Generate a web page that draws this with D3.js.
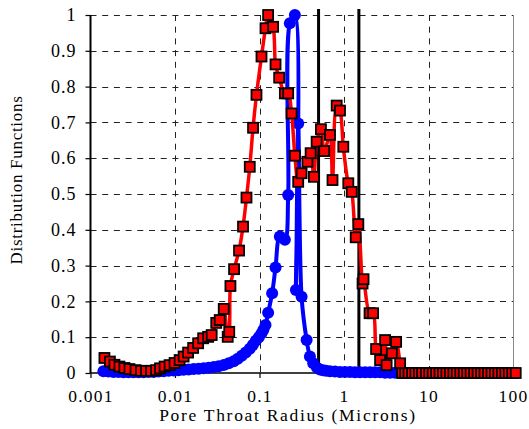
<!DOCTYPE html>
<html><head><meta charset="utf-8">
<script src="https://cdn.jsdelivr.net/npm/d3@7"></script>
<style>body{margin:0;background:#fff}svg{display:block}</style>
</head><body><svg id="c" width="529" height="429"></svg>
<script>
// ---- data ----
const xTicks = [0.001, 0.01, 0.1, 1, 10, 100];
const xTickLabels = ["0.001", "0.01", "0.1", "1", "10", "100"];
const yTicks = [0, 0.1, 0.2, 0.3, 0.4, 0.5, 0.6, 0.7, 0.8, 0.9, 1];
const yTickLabels = ["0", "0.1", "0.2", "0.3", "0.4", "0.5", "0.6", "0.7", "0.8", "0.9", "1"];
const cutoffLines = [0.5, 1.5];
const xTitle = "Pore Throat Radius (Microns)";
const yTitle = "Distribution Functions";

// blue series (circles)
const blueX = [0.001422,0.00163,0.00187,0.002143,0.002456,0.002816,0.003228,0.0037,0.004242,0.004862,
  0.005574,0.00639,0.00732,0.00839,0.00962,0.01103,0.01265,0.01449,0.01662,0.01905,
  0.02184,0.02504,0.0287,0.0329,0.03772,0.04324,0.04957,0.0553,0.06168,0.0688,
  0.0767,0.0833,0.0904,0.0981,0.1051,0.1109,0.1178,0.1265,0.1411,0.1548,
  0.1741,0.1996,0.2185,0.2288,0.2623,0.2697,0.2871,0.3148,0.3612,0.3951,
  0.4323,0.4784,0.5192,0.5636,0.6115,0.6822,0.782,0.896,1.027,1.178,
  1.35,1.548,1.774,2.034,2.331,2.672,3.064,3.512,4.026];
const blueY = [0.005,0.004,0.003,0.003,0.002,0.002,0.002,0.002,0.002,0.003,
  0.003,0.004,0.005,0.006,0.007,0.008,0.009,0.01,0.011,0.012,
  0.013,0.015,0.017,0.019,0.022,0.027,0.033,0.04,0.048,0.057,
  0.068,0.078,0.09,0.1,0.11,0.12,0.134,0.168,0.223,0.295,
  0.381,0.372,0.497,0.977,1.0,0.232,0.697,0.213,0.092,0.046,
  0.027,0.015,0.01,0.008,0.006,0.005,0.004,0.003,0.003,0.003,
  0.002,0.002,0.002,0.002,0.002,0.002,0.001,0.001,0.001];

// red series (squares)
const redX = [0.001462,0.001698,0.00192,0.0022,0.00252,0.00289,0.00341,0.00396,0.00454,0.0052,
  0.00597,0.00665,0.00753,0.00863,0.00989,0.01134,0.01265,0.01429,0.0164,0.01879,
  0.02154,0.0247,0.02717,0.03076,0.0338,0.03774,0.04207,0.04385,0.04529,0.05,
  0.05728,0.06385,0.07015,0.0767,0.0839,0.0921,0.1056,0.1178,0.1265,0.145,
  0.1548,0.1709,0.1996,0.2185,0.2397,0.2623,0.2871,0.3148,0.369,0.4027,
  0.4406,0.4744,0.5333,0.5834,0.6822,0.7311,0.819,0.8966,0.9811,1.1245,
  1.234,1.3761,1.4779,1.658,1.703,2.007,2.208,2.397,2.673,3.064,
  3.193,3.68,4.139,4.616,4.876,
  5.3,5.8,6.4,7.0,7.7,8.4,9.3,10.2,11.2,12.3,13.5,14.8,16.3,17.9,19.7,21.6,23.8,26.1,
  28.7,31.5,34.7,38.1,41.9,46.0,50.6,55.6,61.1,67.1,73.8,81.1,89.1,98,107.7];
const redY = [0.042,0.032,0.023,0.018,0.014,0.011,0.008,0.006,0.006,0.006,
  0.008,0.013,0.018,0.022,0.028,0.036,0.046,0.057,0.07,0.083,
  0.097,0.101,0.106,0.14,0.148,0.179,0.101,0.115,0.243,0.29,
  0.342,0.409,0.49,0.576,0.685,0.777,0.884,0.963,1.0,0.967,
  0.862,0.825,0.781,0.781,0.725,0.607,0.534,0.558,0.59,0.614,
  0.548,0.646,0.681,0.62,0.665,0.539,0.747,0.733,0.632,0.53,
  0.506,0.379,0.416,0.25,0.262,0.167,0.167,0.067,0.036,0.092,
  0.022,0.055,0.087,0.027,0,
  0,0,0,0,0,0,0,0,0,0,0,0,0,0,0,0,0,0,
  0,0,0,0,0,0,0,0,0,0,0,0,0,0,0];

// ---- chart ----
const FONT = "'Liberation Serif'";
const svg = d3.select("#c");
const x = d3.scaleLog().domain([0.001, 100]).range([90.5, 513]);
const y = d3.scaleLinear().domain([0, 1]).range([373, 15]);

const grid = svg.append("g");
grid.selectAll("line.h").data(yTicks.filter(d => d > 0)).join("line")
  .attr("x1", x(0.001)).attr("x2", x(100))
  .attr("y1", d => Math.round(y(d)) + 0.5).attr("y2", d => Math.round(y(d)) + 0.5)
  .attr("stroke", "#222").attr("stroke-dasharray", "6,5.7");
grid.selectAll("line.v").data(xTicks.slice(1, -1)).join("line")
  .attr("x1", d => Math.round(x(d)) + 0.5).attr("x2", d => Math.round(x(d)) + 0.5)
  .attr("y1", y(1)).attr("y2", y(0))
  .attr("stroke", "#222").attr("stroke-dasharray", "6,5.7");
grid.append("line").attr("x1", Math.round(x(100)) + 0.5).attr("x2", Math.round(x(100)) + 0.5)
  .attr("y1", y(1)).attr("y2", y(0)).attr("stroke", "#888").attr("stroke-width", 1);

// axes
const yAxis = d3.axisLeft(y).tickValues(yTicks).tickSize(5).tickPadding(9)
  .tickFormat((d, i) => yTickLabels[i]);
const gy = svg.append("g").attr("transform", `translate(${x(0.001)},0)`).call(yAxis);
gy.attr("font-family", null).attr("font-size", null);
gy.select(".domain").attr("stroke", "#000").attr("stroke-width", 2).attr("d", `M0,${y(1)}V${y(0)}`);
gy.selectAll(".tick line").attr("stroke", "#000").attr("stroke-width", 1.2);
gy.selectAll("text").style("font-family", FONT).style("font-size", "18px").attr("letter-spacing", 1).attr("fill", "#000");

const xAxis = d3.axisBottom(x).tickValues(xTicks).tickSize(5).tickPadding(6)
  .tickFormat((d, i) => xTickLabels[i]);
const gx = svg.append("g").attr("transform", `translate(0,${y(0)})`).call(xAxis);
gx.attr("font-family", null).attr("font-size", null);
gx.select(".domain").attr("stroke", "#000").attr("stroke-width", 1.5).attr("d", `M${x(0.001)},0H${x(100)}`);
gx.selectAll(".tick line").attr("stroke", "#000").attr("stroke-width", 1.2);
gx.selectAll("text").style("font-family", FONT).style("font-size", "17.5px").attr("letter-spacing", 1.2).attr("fill", "#000")
  .attr("dy", "1em");

// cutoff lines
svg.append("g").selectAll("line").data(cutoffLines).join("line")
  .attr("x1", d => x(d)).attr("x2", d => x(d))
  .attr("y1", y(1) - 6).attr("y2", y(0))
  .attr("stroke", "#000").attr("stroke-width", 3);

// titles
svg.append("text").attr("x", 288).attr("y", 421).attr("text-anchor", "middle")
  .style("font-family", FONT).style("font-size", "17.5px").attr("letter-spacing", 1.7).text(xTitle);
svg.append("text").attr("transform", "translate(22,180) rotate(-90)").attr("text-anchor", "middle")
  .style("font-family", FONT).style("font-size", "17px").attr("letter-spacing", 0.7).text(yTitle);

// series
const blue = blueX.map((v, i) => [v, blueY[i]]);
const red = redX.map((v, i) => [v, redY[i]]);
const line = d3.line().x(d => x(d[0])).y(d => y(d[1])).curve(d3.curveCatmullRom.alpha(0.5));

svg.append("path").datum(blue).attr("d", line).attr("fill", "none")
  .attr("stroke", "#0000ff").attr("stroke-width", 4);
svg.append("g").selectAll("circle").data(blue).join("circle")
  .attr("cx", d => x(d[0])).attr("cy", d => y(d[1])).attr("r", 6).attr("fill", "#0000ff");

svg.append("path").datum(red).attr("d", line).attr("fill", "none")
  .attr("stroke", "#ff0000").attr("stroke-width", 3.5);
svg.append("g").selectAll("rect").data(red).join("rect")
  .attr("x", d => x(d[0]) - 5).attr("y", d => y(d[1]) - 5).attr("width", 10).attr("height", 10)
  .attr("fill", "#ff0000").attr("stroke", "#000").attr("stroke-width", 1.8);
</script></body></html>
